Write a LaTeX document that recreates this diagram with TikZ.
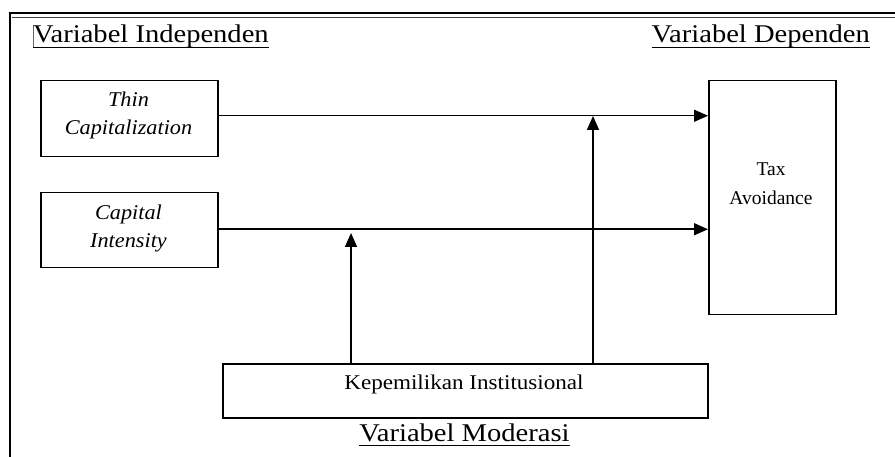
\documentclass[tikz,border=0pt]{standalone}
\usepackage{fontspec}
\setmainfont{Liberation Serif}
\newfontfamily\headfont[FakeStretch=1.12]{Liberation Serif}
\newfontfamily\boxitfont[FakeStretch=1.06]{Liberation Serif}
\newfontfamily\kepfont[FakeStretch=1.1]{Liberation Serif}
\usetikzlibrary{arrows.meta}
\begin{document}
\begin{tikzpicture}[x=1pt,y=-1pt,
  box/.style={draw, line width=1.5pt, inner sep=0pt, anchor=north west},
  head/.style={font=\headfont\fontsize{25.5}{30}\selectfont, inner sep=0pt},
  itlabel/.style={font=\boxitfont\itshape\fontsize{21}{28}\selectfont, inner sep=0pt, anchor=base},
  plainlabel/.style={font=\fontsize{19.5}{28}\selectfont, inner sep=0pt, anchor=base},
  keplabel/.style={font=\kepfont\fontsize{21}{28}\selectfont, inner sep=0pt, anchor=base},
  arr/.style={line width=1.5pt, -{Triangle[length=14pt,width=12pt]}},
  uline/.style={line width=1.5pt}]
\useasboundingbox (0,0) rectangle (895,457);
% frame
\draw[line width=2pt] (9,13) -- (895,13);
\draw[line width=1pt, black!75] (12,18) -- (895,18);
\draw[line width=2pt] (10,12) -- (10,457);
\draw[line width=0.8pt, black!60] (33,25) -- (33,48);
% headings
\node[head, anchor=base west] (hind) at (33,43) {Variabel Independen};
\node[head, anchor=base east] (hdep) at (870,43) {Variabel Dependen};
\node[head, anchor=base] (hmod) at (464.5,441) {Variabel Moderasi};
\draw[uline] ([yshift=-4.5pt]hind.base west) -- ([yshift=-4.5pt]hind.base east);
\draw[uline] ([yshift=-4.5pt]hdep.base west) -- ([yshift=-4.5pt]hdep.base east);
\draw[uline] ([yshift=-4.5pt]hmod.base west) -- ([yshift=-4.5pt]hmod.base east);
% boxes
\node[box, minimum width=177pt, minimum height=76pt] (thin) at (40,80) {};
\node[box, minimum width=177pt, minimum height=75pt] (cap) at (40,192) {};
\node[box, minimum width=127pt, minimum height=234pt] (tax) at (708,80) {};
\node[box, minimum width=485pt, minimum height=54pt] (kep) at (222,363) {};
% box texts
\node[itlabel] (thinA) at (128.5,107) {Thin};
\node[itlabel] (thinB) at (128.5,135) {Capitalization};
\node[itlabel] (capA) at (128.5,220) {Capital};
\node[itlabel] (capB) at (128.5,248) {Intensity};
\node[plainlabel] (taxA) at (771,176) {Tax};
\node[plainlabel] (taxB) at (771,205) {Avoidance};
\node[keplabel] (kepA) at (464,389) {Kepemilikan Institusional};
% connectors
\coordinate (m1) at (351,233);
\coordinate (m2) at (593,116);
\draw[arr] ([yshift=3pt]thin.east) -- ([yshift=3pt]thin.east -| tax.west);
\draw[arr] ([yshift=1pt]cap.east) -- ([yshift=1pt]cap.east -| tax.west);
\draw[arr] (kep.north -| m1) -- (m1);
\draw[arr] (kep.north -| m2) -- (m2);
\end{tikzpicture}
\end{document}
